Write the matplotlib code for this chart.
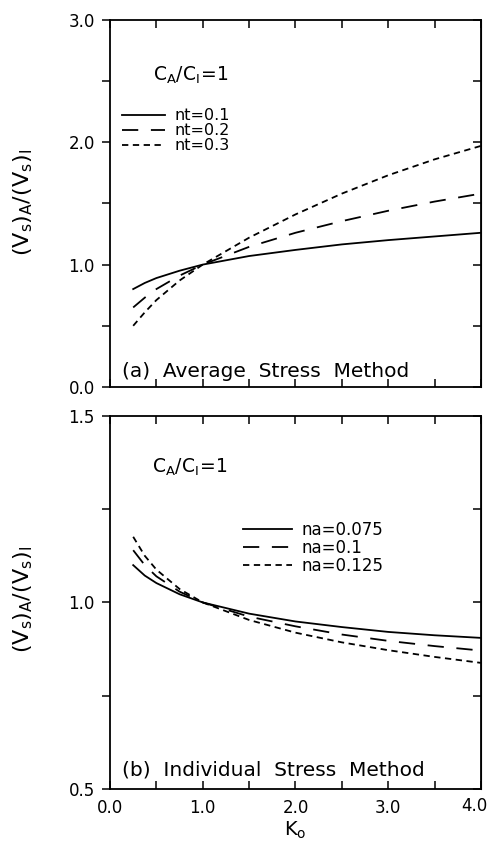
import matplotlib
matplotlib.use("Agg")
import matplotlib.pyplot as plt
from matplotlib.ticker import MultipleLocator, FuncFormatter

plt.rcParams['font.family'] = ['DejaVu Sans']

# K0 sample points
k0 = [0.25, 0.375, 0.5, 0.75, 1.0, 1.5, 2.0, 2.5, 3.0, 3.5, 4.0]

# (a) average stress method
nt_labels = ['nt=0.1', 'nt=0.2', 'nt=0.3']
nt_01 = [0.80, 0.85, 0.89, 0.95, 1.00, 1.07, 1.12, 1.165, 1.20, 1.23, 1.26]
nt_02 = [0.65, 0.73, 0.80, 0.91, 1.00, 1.145, 1.26, 1.355, 1.44, 1.515, 1.58]
nt_03 = [0.50, 0.61, 0.71, 0.87, 1.00, 1.22, 1.41, 1.58, 1.73, 1.86, 1.97]

# (b) individual stress method
na_labels = ['na=0.075', 'na=0.1', 'na=0.125']
na_0075 = [1.10, 1.072, 1.052, 1.022, 1.00, 0.97, 0.949, 0.934, 0.921, 0.912, 0.905]
na_01 = [1.14, 1.10, 1.070, 1.029, 1.00, 0.962, 0.936, 0.914, 0.897, 0.883, 0.871]
na_0125 = [1.176, 1.125, 1.088, 1.036, 1.00, 0.953, 0.919, 0.893, 0.872, 0.854, 0.838]

styles = [dict(ls='-'), dict(ls=(0, (9, 7))), dict(ls=(0, (3.5, 2.5)))]

fig = plt.figure(figsize=(4.92, 8.44), dpi=100)
ax1 = fig.add_axes([0.2236, 0.5415, 0.754, 0.435])
ax2 = fig.add_axes([0.2236, 0.0652, 0.754, 0.442])


def style_axis(ax, ymin, ymax, ystep, ylab_step, ylab_y):
    ax.set_xlim(0, 4)
    ax.set_ylim(ymin, ymax)
    ax.xaxis.set_major_locator(MultipleLocator(0.5))
    ax.yaxis.set_major_locator(MultipleLocator(ystep))
    # 4.0 is written by hand further down so it stays inside the picture
    ax.xaxis.set_major_formatter(FuncFormatter(
        lambda v, p: '%.1f' % v if abs(v - round(v)) < 1e-6 and v < 3.9 else ''))
    ax.yaxis.set_major_formatter(FuncFormatter(
        lambda v, p: '%.1f' % v if abs(v / ylab_step - round(v / ylab_step)) < 1e-6 else ''))
    ax.tick_params(axis='x', direction='in', top=True, length=6, width=1.1,
                   labelsize=12, pad=7)
    ax.tick_params(axis='y', direction='out', right=False, length=6, width=1.1,
                   labelsize=12, pad=5)
    for s in ax.spines.values():
        s.set_linewidth(1.3)
    # inward ticks on the right side
    sec = ax.secondary_yaxis('right')
    sec.yaxis.set_major_locator(MultipleLocator(ystep))
    sec.tick_params(direction='in', length=6, width=1.1, labelright=False)
    ax.set_ylabel(r'$\mathregular{(V_s)_A/(V_s)_I}$', fontsize=16)
    ax.yaxis.set_label_coords(-0.202, ylab_y)


style_axis(ax1, 0, 3, 0.5, 1.0, 0.504)
style_axis(ax2, 0.5, 1.5, 0.25, 0.5, 0.507)
ax1.tick_params(axis='x', labelbottom=False)

for vals, lab, st in zip([nt_01, nt_02, nt_03], nt_labels, styles):
    ax1.plot(k0, vals, color='black', lw=1.3, label=lab, **st)
for vals, lab, st in zip([na_0075, na_01, na_0125], na_labels, styles):
    ax2.plot(k0, vals, color='black', lw=1.3, label=lab, **st)

ax1.legend(loc='center left', bbox_to_anchor=(0.032, 0.698), frameon=False, fontsize=11.5,
           handlelength=2.7, handletextpad=0.6, labelspacing=0.0,
           borderaxespad=0, borderpad=0)
ax2.legend(loc='center left', bbox_to_anchor=(0.358, 0.646), frameon=False, fontsize=12,
           handlelength=2.95, handletextpad=0.6, labelspacing=0.0,
           borderaxespad=0, borderpad=0)

ax1.text(0.115, 0.848, r'$\mathregular{C_A/C_I\!=\!1}$', transform=ax1.transAxes,
         fontsize=13.5, va='center')
ax2.text(0.113, 0.861, r'$\mathregular{C_A/C_I\!=\!1}$', transform=ax2.transAxes,
         fontsize=13.5, va='center')
ax1.text(0.032, 0.041, '(a)  Average  Stress  Method', transform=ax1.transAxes,
         fontsize=14.5, va='center')
ax2.text(0.032, 0.051, '(b)  Individual  Stress  Method', transform=ax2.transAxes,
         fontsize=14.5, va='center')
ax2.annotate('4.0', xy=(4.0, 0.5), xycoords='data', xytext=(-5, -6),
             textcoords='offset points', ha='center', va='top', fontsize=12)
ax2.set_xlabel(r'$\mathregular{K_o}$', fontsize=14, labelpad=2)

fig.savefig('out.png', dpi=100)
